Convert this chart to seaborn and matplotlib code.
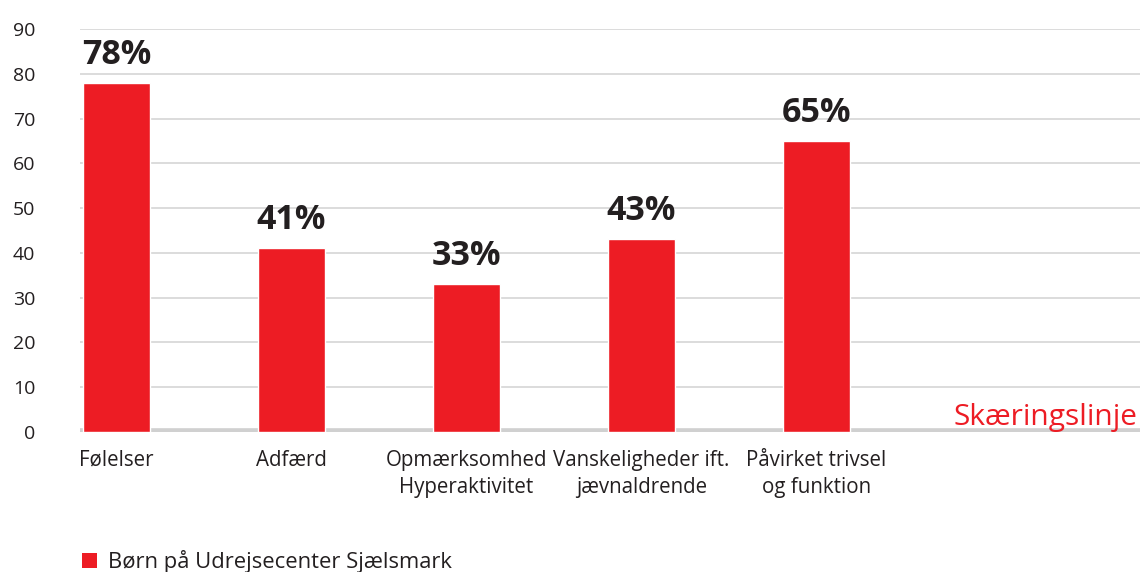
import matplotlib
matplotlib.use("Agg")
import matplotlib.pyplot as plt
import seaborn as sns
import pandas as pd
from matplotlib.patches import Patch

categories = ["Følelser", "Adfærd", "Opmærksomhed\nHyperaktivitet",
              "Vanskeligheder ift.\njævnaldrende", "Påvirket trivsel\nog funktion"]
values = [78, 41, 33, 43, 65]
value_labels = ["78%", "41%", "33%", "43%", "65%"]
yticks = [0, 10, 20, 30, 40, 50, 60, 70, 80, 90]
series_name = "Børn på Udrejsecenter Sjælsmark"
cutline_label = "Skæringslinje"

RED = "#ED1C24"
TXT = "#231f20"

sns.set_theme(style="white")
plt.rcParams['font.family'] = ['Open Sans', 'DejaVu Sans']

df = pd.DataFrame({"kategori": categories, "værdi": values})

fig = plt.figure(figsize=(11.4, 5.72), dpi=100)
ax = fig.add_axes([0.070, 0.245, 0.930, 0.704])

sns.barplot(data=df, x="kategori", y="værdi", order=categories, color=RED,
            width=0.38, saturation=1, ax=ax, zorder=3)

ax.set_ylim(0, 90)
ax.set_xlim(-0.21, 5.85)
ax.set_yticks(yticks)
ax.set_yticklabels([str(t) for t in yticks])
ax.yaxis.grid(True, color="#d6d6d6", linewidth=1.2, zorder=0)
ax.xaxis.grid(False)
for s in ax.spines.values():
    s.set_visible(False)
ax.axhline(0, color="#d0d0d0", linewidth=5.5, zorder=2)

ax.set_xlabel("")
ax.set_ylabel("")
ax.tick_params(axis="y", length=0, pad=32, labelsize=14, labelcolor=TXT)
ax.tick_params(axis="x", length=0, pad=13, labelsize=14.8, labelcolor=TXT)
for lab in ax.get_yticklabels():
    lab.set_horizontalalignment("right")
for lab in ax.get_xticklabels():
    lab.set_linespacing(1.4)
    lab.set_verticalalignment("top")

for patch, lbl in zip(ax.patches, value_labels):
    x = patch.get_x() + patch.get_width() / 2
    ax.annotate(lbl, (x, patch.get_height()), xytext=(0, 8),
                textcoords="offset points", ha="center", va="bottom",
                fontsize=24.5, fontweight="bold", color=TXT)

ax.annotate(cutline_label, (1.0, 0), xycoords=("axes fraction", "data"),
            xytext=(-2, 5), textcoords="offset points", ha="right",
            va="baseline", fontsize=21.5, color=RED, zorder=4)

handles = [Patch(facecolor=RED, edgecolor="none", label=series_name)]
fig.legend(handles=handles, loc="lower left", bbox_to_anchor=(0.055, -0.037),
           frameon=False, fontsize=15.8, handlelength=0.65, handleheight=0.65,
           handletextpad=0.5, labelcolor=TXT)

fig.savefig("out.png", dpi=100)
